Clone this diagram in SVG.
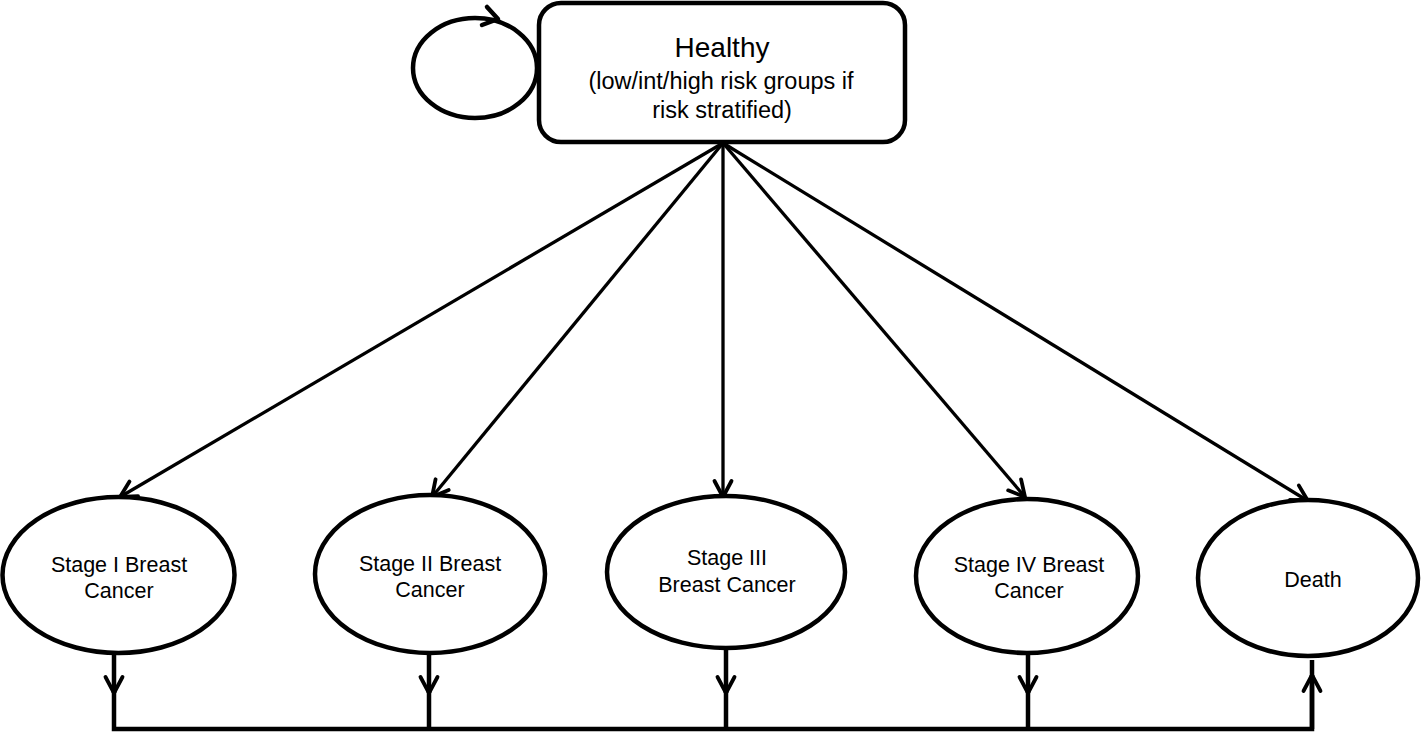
<svg xmlns="http://www.w3.org/2000/svg" width="1422" height="733" viewBox="0 0 1422 733">
<style>
.shape{fill:#fff;stroke:#000;stroke-width:4.5}
.lbl{font-family:"Liberation Sans",Arial,sans-serif;fill:#000;text-anchor:middle}
.edge{fill:none;stroke:#000;stroke-width:3.3}
.bus{fill:none;stroke:#000;stroke-width:4.5}
.loop{fill:none;stroke:#000;stroke-width:4.5}
</style>
<defs>
<marker id="arr" markerUnits="userSpaceOnUse" viewBox="-16 -10 20 20" refX="0" refY="0" markerWidth="20" markerHeight="20" orient="auto" overflow="visible">
<path d="M-16,-8.5 L0,0 L-16,8.5" fill="none" stroke="#000" stroke-width="3.8" stroke-linecap="round" stroke-linejoin="round"/>
</marker>
</defs>
<rect width="1422" height="733" fill="#fff"/>
<g id="connectors">
<path class="edge" d="M723,143 L120,497" marker-end="url(#arr)"/>
<path class="edge" d="M723,143 L432,497" marker-end="url(#arr)"/>
<path class="edge" d="M723,143 L723,497" marker-end="url(#arr)"/>
<path class="edge" d="M723,143 L1025,497" marker-end="url(#arr)"/>
<path class="edge" d="M723,143 L1308,501" marker-end="url(#arr)"/>
<path class="bus" d="M114,653 V693" marker-end="url(#arr)"/>
<path class="bus" d="M429,653 V693" marker-end="url(#arr)"/>
<path class="bus" d="M726,648 V693" marker-end="url(#arr)"/>
<path class="bus" d="M1028,653 V693" marker-end="url(#arr)"/>
<path class="bus" d="M114,690 V729 H1312 V660"/>
<path class="bus" d="M429,690 V729"/>
<path class="bus" d="M726,690 V729"/>
<path class="bus" d="M1028,690 V729"/>
<path class="bus" d="M1312,729 V675" marker-end="url(#arr)"/>
<ellipse class="loop" cx="475" cy="68" rx="62" ry="50"/>
<path class="loop" d="M487,7 L498,19 L482,25" stroke-linecap="round" stroke-linejoin="round"/>
</g>
<g id="healthy">
<rect class="shape" x="539" y="3" width="366" height="139" rx="22"/>
<text class="lbl" x="722" y="57" font-size="28">Healthy</text>
<text class="lbl" x="721" y="89" font-size="23.5">(low/int/high risk groups if</text>
<text class="lbl" x="722" y="118" font-size="23.5">risk stratified)</text>
</g>
<g id="stage1">
<ellipse class="shape" cx="118.5" cy="575" rx="116" ry="78"/>
<text class="lbl" x="119" y="572" font-size="21.5">Stage I Breast</text>
<text class="lbl" x="119" y="598" font-size="21.5">Cancer</text>
</g>
<g id="stage2">
<ellipse class="shape" cx="430" cy="574" rx="115" ry="79"/>
<text class="lbl" x="430" y="571" font-size="21.5">Stage II Breast</text>
<text class="lbl" x="430" y="597" font-size="21.5">Cancer</text>
</g>
<g id="stage3">
<ellipse class="shape" cx="726" cy="572" rx="119" ry="76"/>
<text class="lbl" x="727" y="565" font-size="21.5">Stage III</text>
<text class="lbl" x="727" y="592" font-size="21.5">Breast Cancer</text>
</g>
<g id="stage4">
<ellipse class="shape" cx="1027" cy="576" rx="111" ry="77"/>
<text class="lbl" x="1029" y="572" font-size="21.5">Stage IV Breast</text>
<text class="lbl" x="1029" y="598" font-size="21.5">Cancer</text>
</g>
<g id="death">
<ellipse class="shape" cx="1308" cy="578" rx="110" ry="78"/>
<text class="lbl" x="1313" y="587" font-size="21.5">Death</text>
</g>
</svg>
